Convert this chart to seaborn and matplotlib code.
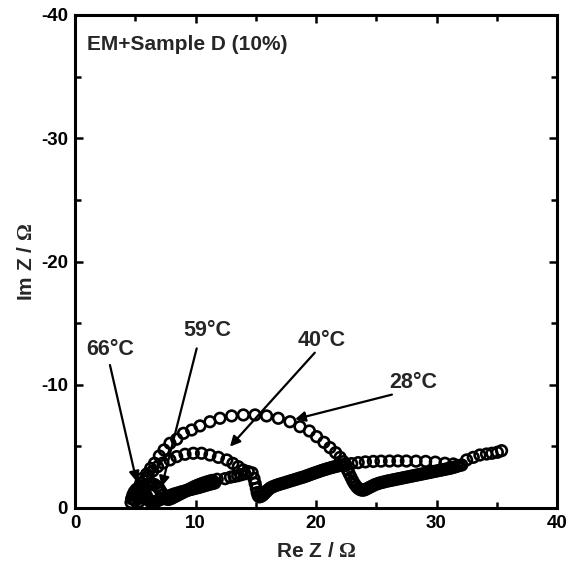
import matplotlib
matplotlib.use("Agg")
import matplotlib.pyplot as plt
from matplotlib.ticker import MultipleLocator
import pandas as pd
import seaborn as sns

# Nyquist spectra (Re Z, Im Z) in ohm, one list per temperature
nyquist_28 = [
    (4.9, -0.7), (5.0, -1.0), (5.15, -1.3), (5.3, -1.65), (5.45, -2.0), (5.6, -2.41),
    (5.95, -2.76), (6.28, -3.22), (6.6, -3.63), (7.0, -4.22), (7.39, -4.71), (7.88, -5.25),
    (8.44, -5.58), (9.0, -6.06), (9.68, -6.33), (10.37, -6.66), (11.2, -7.0), (12.03, -7.28),
    (13.0, -7.47), (13.97, -7.55), (14.94, -7.55), (15.9, -7.47), (16.87, -7.28), (17.84, -7.0),
    (18.67, -6.6), (19.45, -6.25), (20.05, -5.79), (20.66, -5.33), (21.16, -4.9), (21.63, -4.49),
    (22.0, -4.11), (22.27, -3.76), (22.45, -3.45), (22.6, -3.1), (22.75, -2.8), (22.9, -2.5),
    (23.05, -2.2), (23.2, -1.95), (23.35, -1.75), (23.5, -1.6), (23.65, -1.5), (23.8, -1.45),
    (23.95, -1.45), (24.1, -1.5), (24.3, -1.6), (24.5, -1.7), (24.7, -1.8), (24.9, -1.9),
    (25.1, -1.97), (25.3, -2.03), (25.5, -2.08), (25.7, -2.13), (25.9, -2.18), (26.1, -2.22),
    (26.3, -2.26), (26.5, -2.3), (26.7, -2.34), (26.9, -2.38), (27.1, -2.42), (27.3, -2.46),
    (27.5, -2.5), (27.7, -2.54), (27.9, -2.58), (28.1, -2.62), (28.3, -2.66), (28.5, -2.7),
    (28.7, -2.74), (28.9, -2.78), (29.1, -2.82), (29.3, -2.86), (29.5, -2.9), (29.7, -2.94),
    (29.9, -2.98), (30.1, -3.02), (30.3, -3.06), (30.5, -3.1), (30.7, -3.14), (30.9, -3.18),
    (31.1, -3.22), (31.3, -3.27), (31.5, -3.32), (31.7, -3.38), (31.9, -3.45), (32.5, -3.9),
    (33.05, -4.11), (33.6, -4.3), (34.15, -4.38), (34.6, -4.44), (35.05, -4.52), (35.4, -4.65),
]

nyquist_40 = [
    (5.0, -0.6), (5.1, -0.9), (5.2, -1.2), (5.35, -1.5), (5.5, -1.8), (5.75, -2.2),
    (6.08, -2.6), (6.45, -3.0), (6.85, -3.35), (7.3, -3.65), (7.88, -3.9), (8.44, -4.17),
    (9.13, -4.36), (9.82, -4.44), (10.5, -4.44), (11.2, -4.3), (11.9, -4.11), (12.6, -3.9),
    (13.1, -3.62), (13.55, -3.35), (13.97, -3.08), (14.38, -2.95), (14.7, -2.85), (14.85, -2.4),
    (14.95, -2.0), (15.05, -1.6), (15.12, -1.25), (15.2, -1.0), (15.3, -0.9), (15.45, -0.95),
    (15.6, -1.05), (15.75, -1.2), (15.9, -1.35), (16.05, -1.5), (16.2, -1.62), (16.4, -1.72),
    (16.6, -1.8), (16.8, -1.87), (17.0, -1.93), (17.2, -1.99), (17.4, -2.05), (17.6, -2.11),
    (17.8, -2.17), (18.0, -2.23), (18.2, -2.29), (18.4, -2.35), (18.6, -2.41), (18.8, -2.47),
    (19.0, -2.53), (19.2, -2.6), (19.4, -2.67), (19.6, -2.74), (19.8, -2.81), (20.0, -2.88),
    (20.2, -2.95), (20.4, -3.02), (20.6, -3.08), (20.8, -3.14), (21.0, -3.2), (21.2, -3.26),
    (21.4, -3.31), (21.6, -3.36), (21.8, -3.41), (22.0, -3.45), (22.2, -3.5), (22.45, -3.55),
    (22.96, -3.6), (23.5, -3.68), (24.1, -3.74), (24.76, -3.78), (25.4, -3.8), (26.1, -3.81),
    (26.8, -3.82), (27.5, -3.81), (28.3, -3.8), (29.1, -3.78), (29.9, -3.72), (30.7, -3.63),
    (31.4, -3.57), (32.1, -3.49),
]

nyquist_59 = [
    (5.3, -0.5), (5.4, -0.8), (5.5, -1.1), (5.65, -1.4), (5.8, -1.65), (6.0, -1.85),
    (6.2, -1.95), (6.4, -1.95), (6.6, -1.9), (6.8, -1.75), (7.0, -1.55), (7.15, -1.3),
    (7.3, -1.05), (7.45, -0.85), (7.6, -0.72), (7.8, -0.7), (8.0, -0.78), (8.2, -0.88),
    (8.4, -0.98), (8.6, -1.08), (8.8, -1.18), (9.0, -1.28), (9.2, -1.38), (9.4, -1.48),
    (9.6, -1.58), (9.8, -1.68), (10.0, -1.77), (10.2, -1.85), (10.4, -1.93), (10.6, -2.0),
    (10.8, -2.07), (11.0, -2.13), (11.2, -2.19), (11.4, -2.24), (11.8, -2.33), (12.45, -2.38),
    (12.9, -2.5), (13.2, -2.56), (13.5, -2.62), (13.8, -2.7), (14.1, -2.78),
]

nyquist_66 = [
    (4.65, -0.45), (4.7, -0.75), (4.8, -1.05), (4.92, -1.3), (5.08, -1.5), (5.25, -1.6),
    (5.42, -1.6), (5.6, -1.5), (5.75, -1.3), (5.9, -1.05), (6.02, -0.8), (6.15, -0.6),
    (6.3, -0.48), (6.45, -0.45), (6.6, -0.5), (6.8, -0.58), (7.0, -0.66), (7.2, -0.74),
    (7.4, -0.82), (7.6, -0.9), (7.8, -0.98), (8.0, -1.05), (8.2, -1.12), (8.4, -1.18),
    (8.6, -1.24), (8.8, -1.3), (9.0, -1.35), (9.2, -1.4), (9.4, -1.45), (9.6, -1.5),
    (9.8, -1.55), (10.0, -1.6), (10.2, -1.65), (10.4, -1.7), (10.6, -1.76), (10.8, -1.82),
    (11.0, -1.88), (11.2, -1.93), (11.4, -1.98), (11.6, -2.03),
]

spectra = {"28°C": nyquist_28, "40°C": nyquist_40, "59°C": nyquist_59, "66°C": nyquist_66}

# label text position, arrow tail, arrow tip (data coordinates)
callouts = {
    "66°C": ((2.9, -12.9), (2.9, -11.6), (5.12, -2.13)),
    "59°C": ((10.95, -14.4), (10.1, -12.95), (7.19, -1.73)),
    "40°C": ((20.5, -13.55), (19.9, -12.6), (12.86, -4.98)),
    "28°C": ((28.05, -10.15), (26.3, -9.2), (18.26, -7.2)),
}

frames = [
    pd.DataFrame({"re": [p[0] for p in pts], "im": [p[1] for p in pts], "T": name})
    for name, pts in spectra.items()
]
df = pd.concat(frames, ignore_index=True)

sns.set_theme(style="ticks")
plt.rcParams["font.family"] = ["Liberation Sans", "DejaVu Sans"]
plt.rcParams["font.weight"] = "bold"
plt.rcParams["axes.unicode_minus"] = False
plt.rcParams["mathtext.fontset"] = "custom"
plt.rcParams["mathtext.rm"] = "Liberation Serif"

fig = plt.figure(figsize=(5.71, 5.64), dpi=100)
ax = fig.add_axes([75 / 571, 1 - 508 / 564, 482 / 571, 493 / 564])

sns.scatterplot(
    data=df, x="re", y="im", hue="T", palette=["black"] * 4,
    marker="o", s=58, linewidth=1.9, legend=False, ax=ax,
)
for coll in ax.collections:
    coll.set_facecolor("none")
    coll.set_edgecolor("black")
    coll.set_linewidth(1.9)

ax.set_xlim(0, 40)
ax.set_ylim(0, -40)
ax.xaxis.set_major_locator(MultipleLocator(10))
ax.xaxis.set_minor_locator(MultipleLocator(5))
ax.yaxis.set_major_locator(MultipleLocator(10))
ax.yaxis.set_minor_locator(MultipleLocator(5))
ax.tick_params(which="both", direction="in", top=True, right=True, colors="black",
               labelsize=13.5, width=1.8, pad=5)
ax.tick_params(which="major", length=6)
ax.tick_params(which="minor", length=4)
for lab in ax.get_xticklabels() + ax.get_yticklabels():
    lab.set_fontweight("bold")
for sp in ax.spines.values():
    sp.set_linewidth(2.2)
    sp.set_color("black")

ax.set_xlabel("Re Z / $\\Omega$", fontsize=15, fontweight="bold", labelpad=7)
ax.set_ylabel("Im Z / $\\Omega$", fontsize=15, fontweight="bold", labelpad=4)

ax.text(0.025, 0.929, "EM+Sample D (10%)", transform=ax.transAxes,
        fontsize=15, fontweight="bold", va="baseline", ha="left")

for name, (txt, tail, tip) in callouts.items():
    ax.annotate("", xy=tip, xytext=tail,
                arrowprops=dict(arrowstyle="-|>", color="black", lw=1.6,
                                mutation_scale=15, shrinkA=0, shrinkB=0))
    ax.text(*txt, name, fontsize=15.5, fontweight="bold", ha="center", va="center")

fig.savefig("out.png", dpi=100)
